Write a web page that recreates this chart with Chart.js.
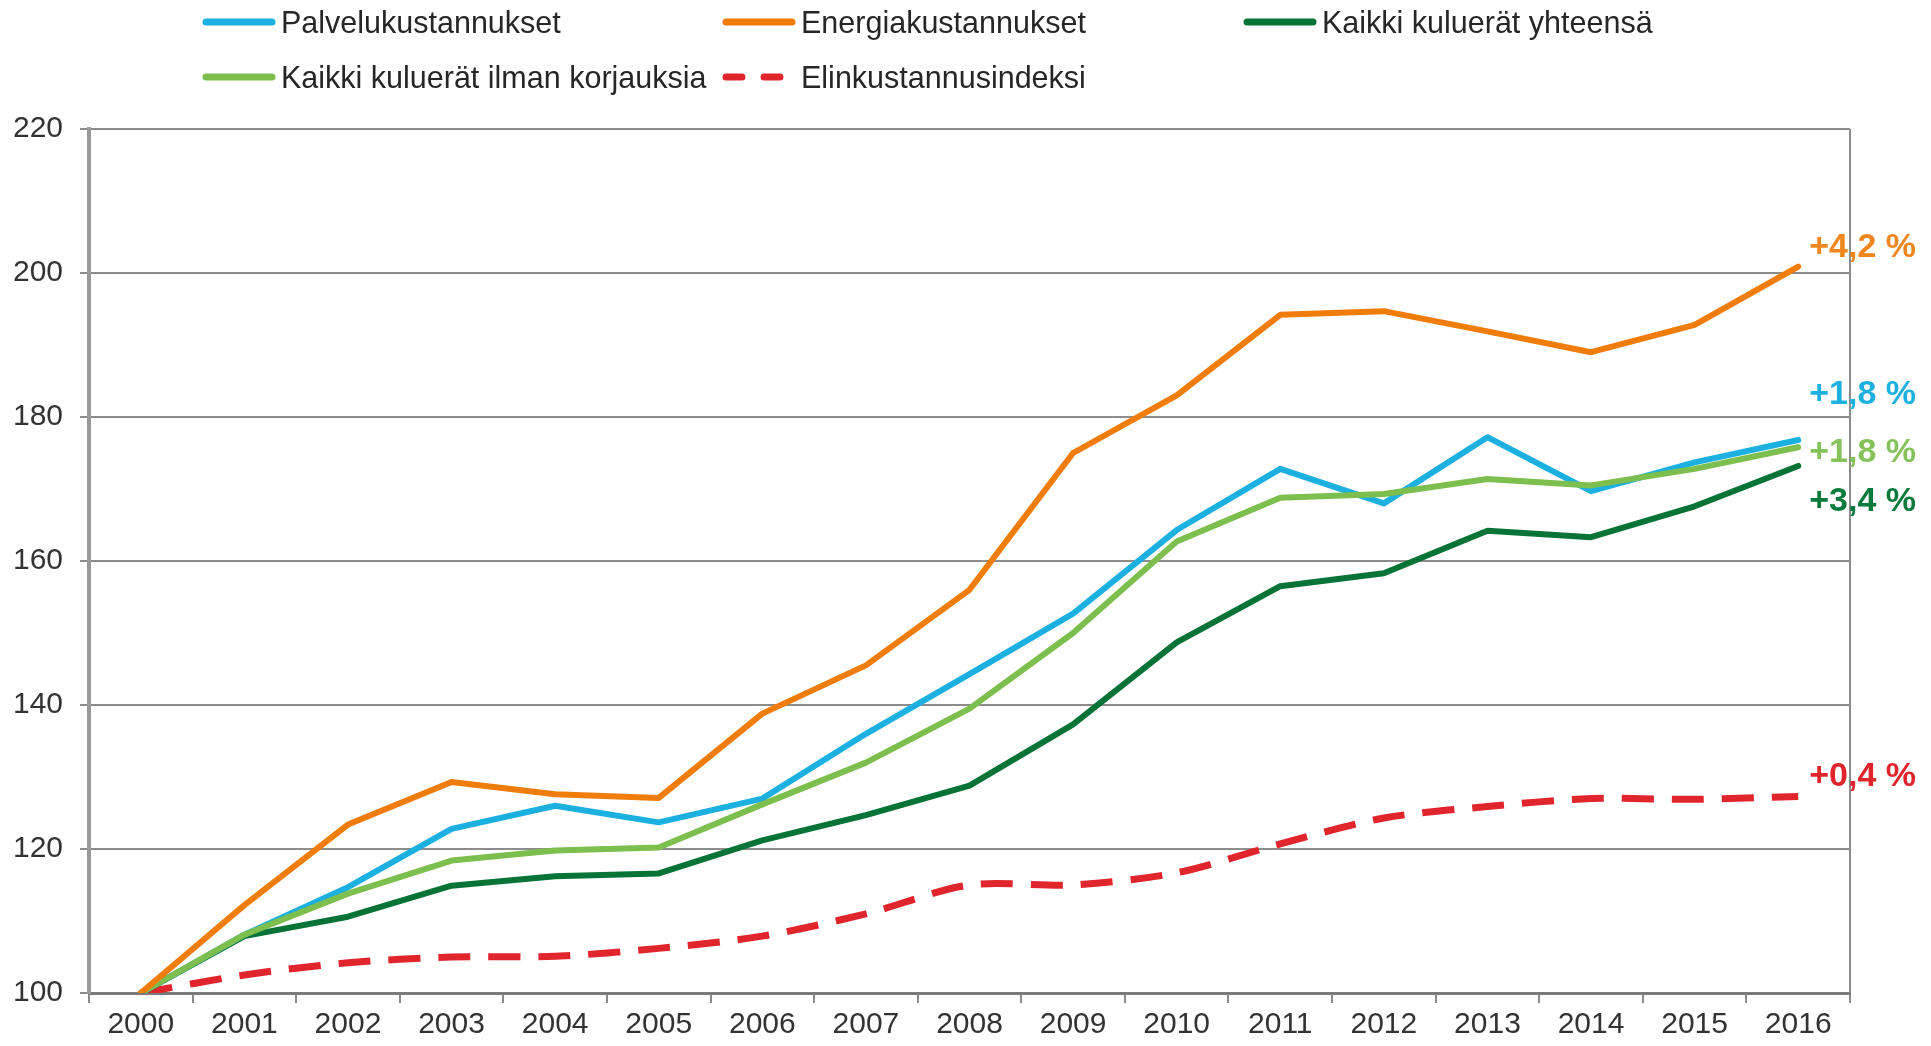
<!DOCTYPE html>
<html>
<head>
<meta charset="utf-8">
<script src="https://cdn.jsdelivr.net/npm/chart.js@4/dist/chart.umd.min.js"></script>
<style>
  html, body { margin: 0; padding: 0; background: #fff; }
  #wrap { position: relative; width: 1931px; height: 1046px; overflow: hidden; }
  #c { position: absolute; left: 0; top: 0; }
  .lg { position: absolute; display: flex; align-items: center; font-family: "Liberation Sans", Arial, sans-serif; font-size: 30.5px; color: #262626; white-space: nowrap; }
  .lg svg { margin-right: 5px; }
</style>
</head>
<body>
<div id="wrap">
  <canvas id="c" width="1931" height="1046"></canvas>
  <div id="legend"></div>
</div>
<script>
const years = ["2000","2001","2002","2003","2004","2005","2006","2007","2008","2009","2010","2011","2012","2013","2014","2015","2016"];
const palvelu   = [100, 108.1, 114.7, 122.8, 126.0, 123.7, 127.0, 136.0, 144.3, 152.7, 164.3, 172.8, 168.0, 177.2, 169.7, 173.7, 176.8];
const energia   = [100, 112.2, 123.4, 129.3, 127.6, 127.1, 138.8, 145.5, 156.0, 175.0, 183.0, 194.2, 194.7, 191.9, 189.0, 192.8, 200.9];
const yhteensa  = [100, 107.9, 110.6, 114.9, 116.2, 116.6, 121.2, 124.7, 128.8, 137.3, 148.7, 156.5, 158.3, 164.2, 163.3, 167.6, 173.2];
const ilmanKorj = [100, 108.1, 113.8, 118.4, 119.8, 120.2, 126.2, 132.0, 139.5, 150.0, 162.7, 168.8, 169.3, 171.4, 170.5, 172.8, 175.8];
const elinkust  = [100, 102.5, 104.2, 105.0, 105.1, 106.2, 107.9, 111.0, 115.0, 115.0, 116.7, 120.7, 124.3, 125.9, 127.0, 126.9, 127.3];
const seriesNames = ["Palvelukustannukset", "Energiakustannukset", "Kaikki kuluerät yhteensä", "Kaikki kuluerät ilman korjauksia", "Elinkustannusindeksi"];
const yTicks = [100, 120, 140, 160, 180, 200, 220];
const endLabels = ["+4,2 %", "+1,8 %", "+1,8 %", "+3,4 %", "+0,4 %"];
const endLabelValues = [203.5, 183.1, 175.1, 168.2, 130.1];

const COL_BLUE = "#1cb0e0", COL_ORANGE = "#f07d0a", COL_DGREEN = "#077336", COL_LGREEN = "#7dbf4e", COL_RED = "#e0252d";
const endLabelColors = ["#f08620", "#1eb1e0", "#86c25a", "#0b7a3d", "#e0262c"];
const FONT = '"Liberation Sans", Arial, sans-serif';

// HTML legend (grid of 3 columns)
const legendItems = [
  {name: seriesNames[0], color: COL_BLUE, dash: false, x: 202, y: 22},
  {name: seriesNames[1], color: COL_ORANGE, dash: false, x: 722, y: 22},
  {name: seriesNames[2], color: COL_DGREEN, dash: false, x: 1243, y: 22},
  {name: seriesNames[3], color: COL_LGREEN, dash: false, x: 202, y: 77},
  {name: seriesNames[4], color: COL_RED, dash: true, x: 722, y: 77}
];
const lg = document.getElementById('legend');
legendItems.forEach(it => {
  const d = document.createElement('div');
  d.className = 'lg';
  d.style.left = it.x + 'px';
  d.style.top = (it.y - 18) + 'px';
  d.style.height = '36px';
  const dash = it.dash ? 'stroke-dasharray="16 22" stroke-linecap="round"' : 'stroke-linecap="round"';
  d.innerHTML = '<svg width="74" height="12"><line x1="4" y1="6" x2="70" y2="6" stroke="' + it.color + '" stroke-width="7" ' + dash + '/></svg><span>' + it.name + '</span>';
  lg.appendChild(d);
});

const gridCol = '#8c8c8c';

const extras = {
  id: 'extras',
  beforeDatasetsDraw(chart) {
    const {ctx, chartArea} = chart;
    ctx.save();
    ctx.strokeStyle = gridCol;
    ctx.lineWidth = 2;
    ctx.beginPath();
    ctx.moveTo(chartArea.right, chartArea.top);
    ctx.lineTo(chartArea.right, chartArea.bottom);
    ctx.stroke();
    ctx.restore();
  },
  afterDatasetsDraw(chart) {
    const {ctx} = chart;
    const xs = chart.scales.x, ys = chart.scales.y;
    const x0 = xs.getPixelForValue(years.length - 1) + 11;
    ctx.save();
    ctx.font = 'bold 34px ' + FONT;
    ctx.textBaseline = 'middle';
    ctx.textAlign = 'left';
    endLabels.forEach((t, i) => {
      ctx.fillStyle = endLabelColors[i];
      ctx.fillText(t, x0, ys.getPixelForValue(endLabelValues[i]));
    });
    ctx.restore();
  }
};

const mk = (label, data, color, extra) => Object.assign({
  label, data, borderColor: color, backgroundColor: color,
  borderWidth: 6, pointRadius: 0, pointHoverRadius: 0, tension: 0,
  borderJoinStyle: 'round', borderCapStyle: 'round', fill: false
}, extra || {});

new Chart(document.getElementById('c'), {
  type: 'line',
  data: {
    labels: years,
    datasets: [
      mk(seriesNames[4], elinkust, COL_RED, {borderDash: [32, 18], borderWidth: 7, tension: 0.3, borderCapStyle: 'butt', order: 5}),
      mk(seriesNames[2], yhteensa, COL_DGREEN, {order: 4}),
      mk(seriesNames[0], palvelu, COL_BLUE, {order: 3}),
      mk(seriesNames[3], ilmanKorj, COL_LGREEN, {order: 2}),
      mk(seriesNames[1], energia, COL_ORANGE, {order: 1})
    ]
  },
  options: {
    responsive: false,
    animation: false,
    devicePixelRatio: 1,
    layout: { padding: { top: 129, right: 81, left: 0, bottom: 0 } },
    plugins: { legend: { display: false }, tooltip: { enabled: false } },
    scales: {
      x: {
        type: 'category',
        offset: true,
        grid: { offset: true, drawOnChartArea: false, drawTicks: true, tickLength: 10, color: gridCol, lineWidth: 2 },
        border: { display: true, color: '#7a7a7a', width: 3 },
        ticks: { font: { family: FONT, size: 30 }, color: '#333333', padding: 4, maxRotation: 0, autoSkip: false },
        afterFit: s => { s.height = 53; }
      },
      y: {
        min: 100, max: 220,
        afterBuildTicks: s => { s.ticks = yTicks.map(v => ({value: v})); },
        grid: { color: gridCol, lineWidth: 2, tickLength: 9, tickColor: gridCol },
        border: { display: true, color: '#9a9a9a', width: 4 },
        ticks: { font: { family: FONT, size: 30 }, color: '#333333', padding: 17 },
        afterFit: s => { s.width = 89; }
      }
    }
  },
  plugins: [extras]
});
</script>
</body>
</html>
